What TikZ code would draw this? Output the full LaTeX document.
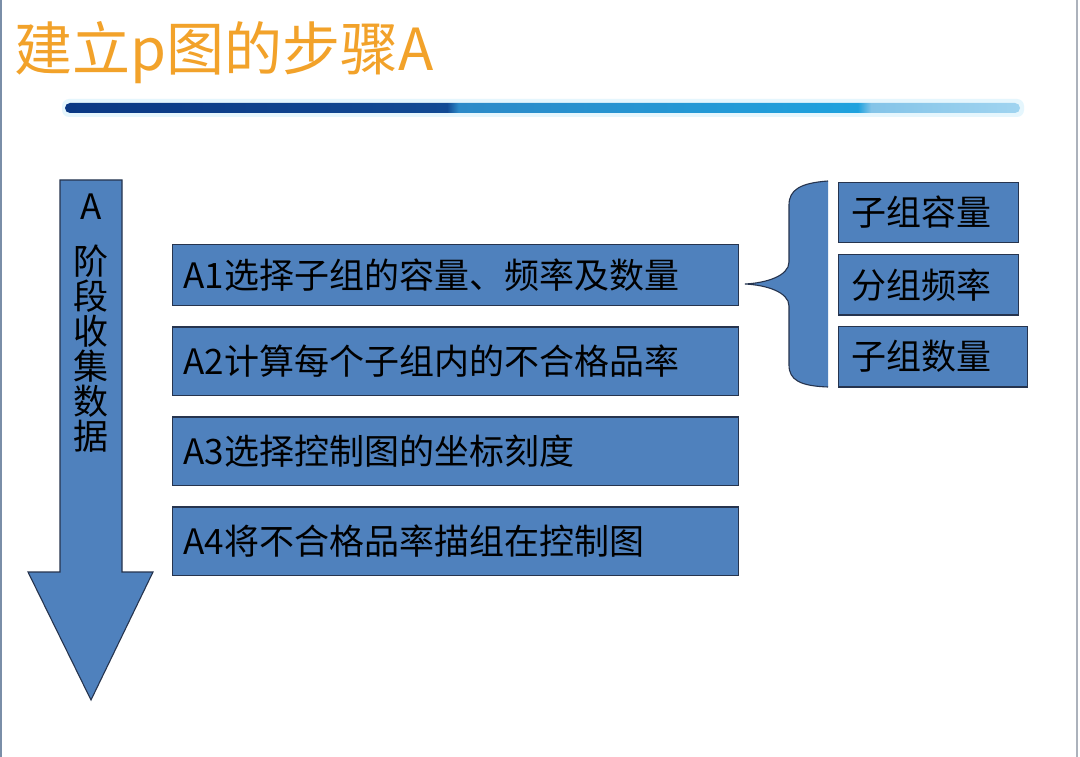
\documentclass[tikz,border=0pt]{standalone}
\usepackage{fontspec}
\newfontfamily\cjk{Noto Sans CJK SC}
\usetikzlibrary{positioning}
\definecolor{boxblue}{RGB}{79,129,189}
\definecolor{boxline}{RGB}{38,52,78}
\definecolor{titleorange}{RGB}{242,162,42}
\definecolor{bara}{RGB}{10,56,132}
\definecolor{barb}{RGB}{18,74,148}
\definecolor{barc}{RGB}{44,138,200}
\definecolor{bard}{RGB}{30,162,222}
\definecolor{bare}{RGB}{132,196,232}
\definecolor{barf}{RGB}{160,212,240}
\pgfdeclarehorizontalshading{barshade}{100bp}{color(0bp)=(bara); color(25bp)=(bara);
  color(45bp)=(barb); color(45.6bp)=(barc); color(66.5bp)=(bard); color(67.2bp)=(bare);
  color(75bp)=(barf); color(100bp)=(barf)}
\newcommand{\boxfont}{\cjk\fontsize{35}{35}\selectfont}
\tikzset{
  stepbox/.style={draw=boxline, fill=boxblue, line width=1.4pt, inner xsep=11pt, inner ysep=0pt,
    text width=544pt, align=left, minimum height=#1, anchor=north west, font=\boxfont},
  subbox/.style={draw=boxline, fill=boxblue, line width=1.4pt, inner xsep=13pt, inner ysep=0pt,
    text width=154pt, align=left, minimum height=#1, anchor=north west, font=\boxfont},
  arrowshape/.style={draw=boxline, fill=boxblue, line width=1.1pt, line join=miter},
  titletext/.style={font=\cjk\fontsize{58}{58}\selectfont, text=titleorange, inner sep=0pt}
}

\begin{document}
\begin{tikzpicture}[x=1pt, y=1pt]
  \useasboundingbox (0,0) rectangle (1080,-757);
  \fill[white] (0,0) rectangle (1080,-757);
  \draw[line width=2pt, color={rgb,255:red,122;green,142;blue,168}] (1,0) -- (1,-757);
  \draw[line width=1.5pt, color={rgb,255:red,172;green,178;blue,188}] (1077,0) -- (1077,-757);

  % title and bar
  \node[titletext, anchor=base west] (title) at (14,-71) {建立p图的步骤A};
  \fill[cyan!40, opacity=0.25, rounded corners=7pt] (62,-99) rectangle (1024,-117);
  \shade[shading=barshade, rounded corners=5pt] (65,-103) rectangle (1020,-113);

  % big arrow
  \draw[arrowshape] (60,-180) -- (122,-180) -- (122,-572) -- (153,-572) -- (91,-700)
    -- (28,-572) -- (60,-572) -- cycle;
  \node[font=\boxfont, inner sep=0pt] (alabel) at (91,-207) {A};
  \node[font=\boxfont, inner sep=0pt, align=center, below=25pt of alabel] (phase)
    {阶\\段\\收\\集\\数\\据};

  % steps
  \node[stepbox=61pt] (a1) at (172,-243.7) {A1选择子组的容量、频率及数量};
  \node[stepbox=68.6pt, below=20pt of a1] (a2) {A2计算每个子组内的不合格品率};
  \node[stepbox=68.6pt, below=20pt of a2] (a3) {A3选择控制图的坐标刻度};
  \node[stepbox=68.6pt, below=20pt of a3] (a4) {A4将不合格品率描组在控制图};

  % brace
  \draw[arrowshape, fill=boxblue] (828,-181) .. controls (800,-183) and (789,-190) .. (789,-205)
    -- (789,-262) .. controls (789,-276) and (766,-283) .. (745,-284)
    .. controls (766,-285) and (789,-292) .. (789,-306)
    -- (789,-365) .. controls (789,-380) and (800,-386) .. (828,-387);

  \node[subbox=60pt] (s1) at (838,-181.7) {子组容量};
  \node[subbox=60.6pt, below=10.6pt of s1] (s2) {分组频率};
  \node[subbox=60.6pt, text width=163pt, below=10pt of s2.south west, anchor=north west] (s3) {子组数量};
\end{tikzpicture}
\end{document}
